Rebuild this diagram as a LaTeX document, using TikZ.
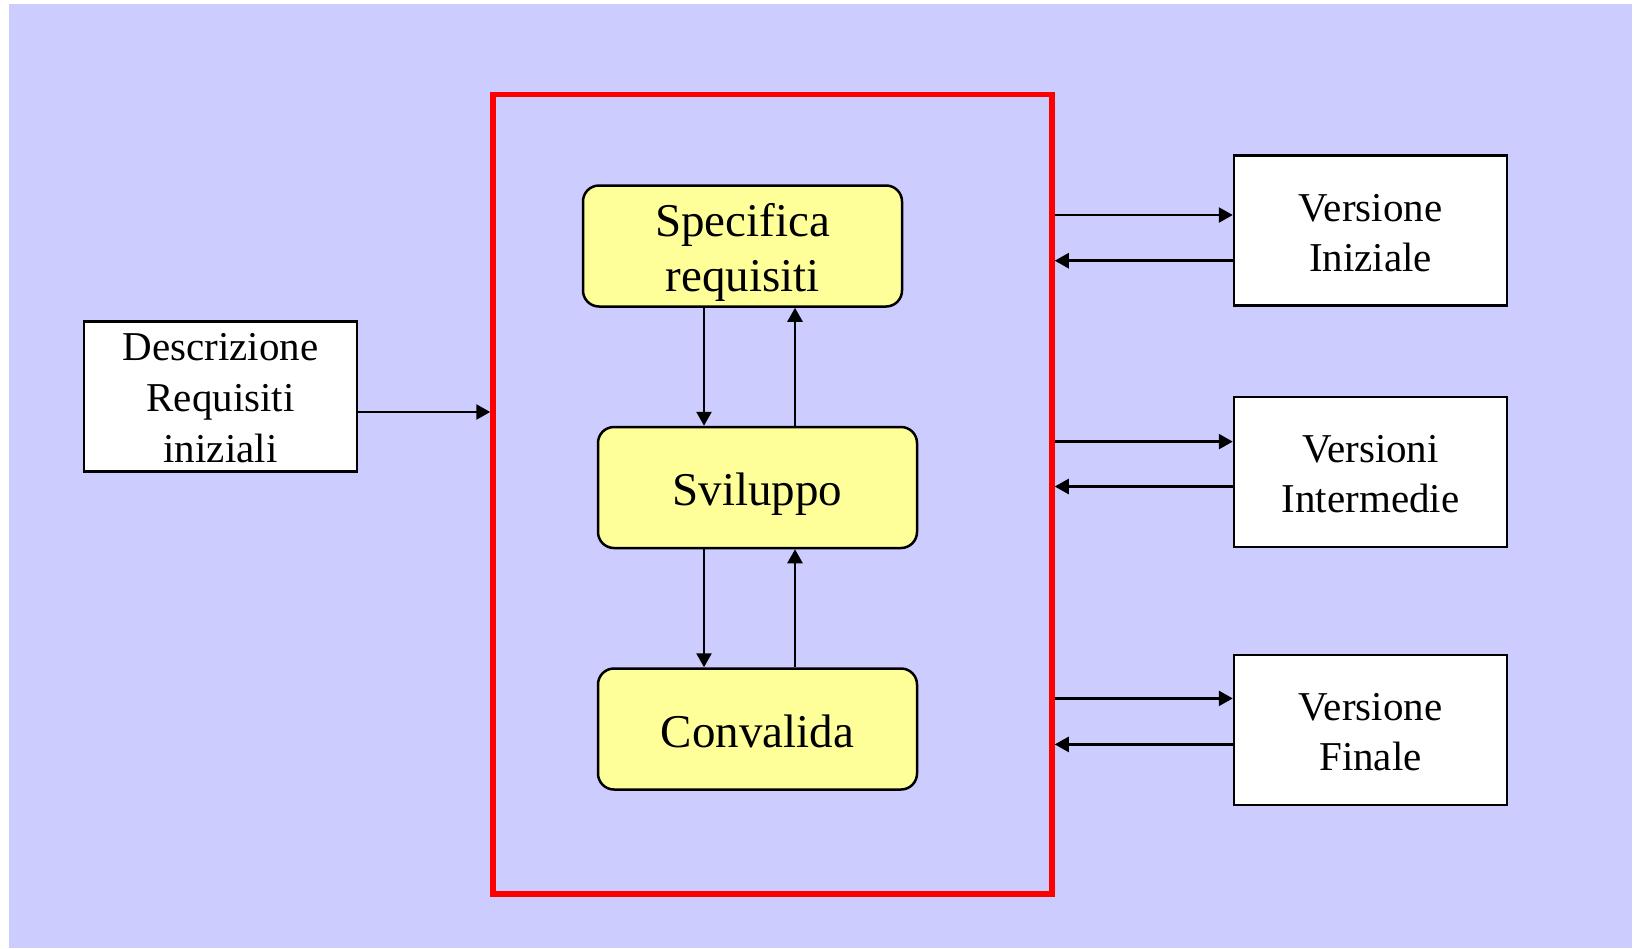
\documentclass[tikz,border=0pt]{standalone}
\usepackage{fontspec}
\setmainfont{Liberation Serif}
\usetikzlibrary{arrows.meta}
\definecolor{bgc}{HTML}{CCCCFF}
\definecolor{yel}{HTML}{FFFF99}
\newcommand\mystrA[1]{\rule{0pt}{#1}}
\newcommand\mystrD[1]{\rule[-#1]{0pt}{#1}}
\begin{document}
\begin{tikzpicture}[x=1pt,y=-1pt,
  arr/.style={line width=2.6pt, -{Triangle[length=14pt,width=15pt]}},
  proc/.style={draw, line width=2.5pt, fill=yel, rounded corners=16pt,
    minimum width=319pt, minimum height=121pt, inner sep=0pt, align=center,
    font=\fontsize{47}{55}\selectfont},
  docbox/.style={draw, line width=2.5pt, fill=white,
    minimum width=273pt, minimum height=150pt, inner sep=0pt, align=center,
    font=\fontsize{41}{50}\selectfont},
  frame/.style={draw=red, line width=5.5pt, minimum width=559pt,
    minimum height=799.5pt, inner sep=0pt}]
\useasboundingbox (0,0) rectangle (1637,948);
\fill[bgc] (9,4) rectangle (1632,948);

\node[frame] (fr) at (772.5,494.25) {};

\node[proc] (spec) at (742.5,246) {\mystrA{46pt}Specifica\\requisiti\mystrD{10pt}};
\node[proc] (svil) at (757.5,487.5) {\mystrA{46pt}Sviluppo\mystrD{10pt}};
\node[proc] (conv) at (757.5,729) {\mystrA{46pt}Convalida\mystrD{10pt}};

\node[docbox, font=\fontsize{41}{51}\selectfont] (desc) at (220.5,396.5)
  {\mystrA{39pt}Descrizione\\Requisiti\\iniziali\mystrD{9pt}};

\node[docbox] (vi) at (1370.5,230.5) {\mystrA{40pt}Versione\\Iniziale\mystrD{9pt}};
\node[docbox] (vm) at (1370.5,472) {\mystrA{40pt}Versioni\\Intermedie\mystrD{9pt}};
\node[docbox] (vf) at (1370.5,730) {\mystrA{40pt}Versione\\Finale\mystrD{9pt}};

% vertical connectors
\coordinate (xa) at (704,0);
\coordinate (xb) at (795,0);
\draw[arr] (spec.south -| xa) -- (svil.north -| xa);
\draw[arr] (svil.north -| xb) -- (spec.south -| xb);
\draw[arr] (svil.south -| xa) -- (conv.north -| xa);
\draw[arr] (conv.north -| xb) -- (svil.south -| xb);

% input
\coordinate (d1) at ([yshift=-15.5pt]desc.east);
\draw[arr] (d1) -- (d1 -| fr.west);

% outputs
\coordinate (a1) at ([yshift=15.5pt]vi.west);
\coordinate (a2) at ([yshift=-30.2pt]vi.west);
\coordinate (b1) at ([yshift=30.4pt]vm.west);
\coordinate (b2) at ([yshift=-14.5pt]vm.west);
\coordinate (c1) at ([yshift=31.6pt]vf.west);
\coordinate (c2) at ([yshift=-14.4pt]vf.west);
\draw[arr] (a1 -| fr.east) -- (a1);
\draw[arr] (a2) -- (a2 -| fr.east);
\draw[arr] (b1 -| fr.east) -- (b1);
\draw[arr] (b2) -- (b2 -| fr.east);
\draw[arr] (c1 -| fr.east) -- (c1);
\draw[arr] (c2) -- (c2 -| fr.east);
\end{tikzpicture}
\end{document}
